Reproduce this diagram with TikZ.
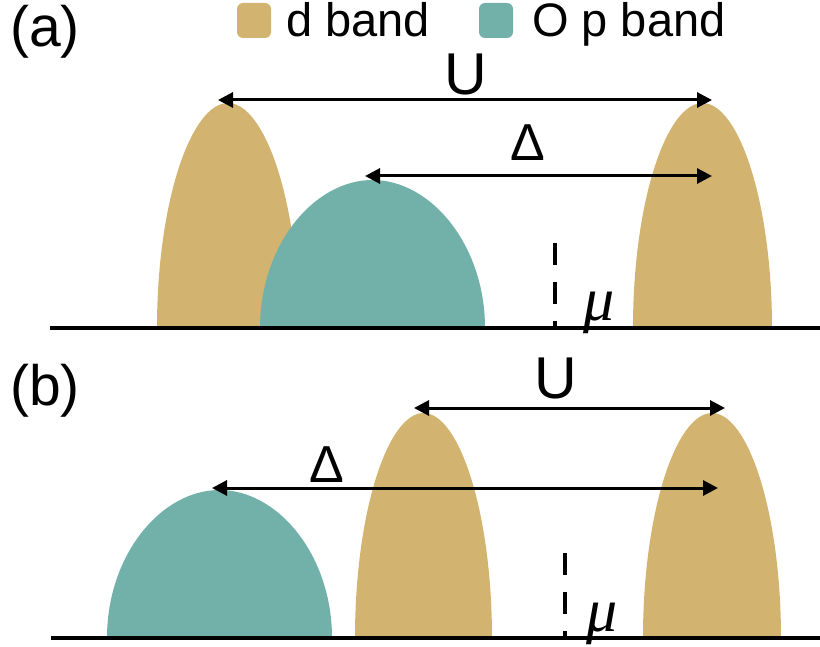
\documentclass[tikz,border=0pt]{standalone}
\usepackage{fontspec}
\setmainfont{Liberation Sans}
\newfontfamily\muserif{Liberation Serif}
\usetikzlibrary{arrows.meta}
\definecolor{dgold}{HTML}{D3B370}
\definecolor{pteal}{HTML}{72B0AA}
\tikzset{
  dimarrow/.style={line width=3pt,{Triangle[length=15pt,width=15pt]}-{Triangle[length=15pt,width=15pt]}},
  baseln/.style={line width=4.5pt},
  muline/.style={line width=4.5pt,dash pattern=on 22pt off 17pt},
  lbl/.style={inner sep=0pt,anchor=base}
}
% band: #1 fill, #2 x0, #3 x1, #4 peak y, #5 base y
\newcommand{\myband}[5]{%
  \pgfmathsetmacro{\xc}{(#2+#3)/2}%
  \pgfmathsetmacro{\hw}{(#3-#2)/2}%
  \pgfmathsetmacro{\hh}{#5-#4}%
  \fill[#1] (#2,#5) .. controls (#2,#5-0.56*\hh) and (\xc-0.52*\hw,#4) .. (\xc,#4)
     .. controls (\xc+0.52*\hw,#4) and (#3,#5-0.56*\hh) .. (#3,#5) -- cycle;}
\begin{document}
\begin{tikzpicture}[x=1pt,y=-1pt]
\useasboundingbox (0,0) rectangle (820,647);
% legend
\fill[dgold,rounded corners=6pt] (237,3) rectangle (271,38);
\fill[pteal,rounded corners=6pt] (479,3) rectangle (513,38);
\node[lbl,anchor=base west] (ld) at (286,37) {\fontsize{47}{47}\selectfont d band};
\node[lbl,anchor=base west] (lp) at (532,37) {\fontsize{47}{47}\selectfont O p band};
% panel labels
\node[lbl,anchor=base west] (pa) at (10,47) {\fontsize{57}{57}\selectfont (a)};
\node[lbl,anchor=base west] (pb) at (10,405) {\fontsize{57}{57}\selectfont (b)};
% panel (a) bands
\myband{dgold}{157}{299}{103}{328}
\myband{pteal}{260}{485}{180}{328}
\myband{dgold}{633}{772}{103}{328}
% panel (b) bands
\myband{pteal}{107}{332}{490}{638}
\myband{dgold}{355}{492}{413}{638}
\myband{dgold}{643}{781}{413}{638}
% baselines
\coordinate (a0) at (50,328); \coordinate (a1) at (820,328);
\coordinate (b0) at (51,638); \coordinate (b1) at (820,638);
\draw[baseln] (a0) -- (a1);
\draw[baseln] (b0) -- (b1);
% chemical potential
\coordinate (ma0) at (555,243); \coordinate (ma1) at (555,328);
\coordinate (mb0) at (565,553); \coordinate (mb1) at (565,638);
\draw[muline] (ma0) -- (ma1);
\draw[muline] (mb0) -- (mb1);
\node[lbl,anchor=base west] (mua) at (583,321) {\fontsize{62}{62}\muserif\itshape μ};
\node[lbl,anchor=base west] (mub) at (586,631) {\fontsize{62}{62}\muserif\itshape μ};
% arrows (a)
\coordinate (ua0) at (218,100); \coordinate (ua1) at (712,100);
\coordinate (da0) at (365,176); \coordinate (da1) at (712,176);
\draw[dimarrow] (ua0) -- (ua1);
\draw[dimarrow] (da0) -- (da1);
\node[lbl] (Ua) at (466,95) {\fontsize{59}{59}\selectfont U};
\node[lbl] (Da) at (528,161) {\fontsize{52}{52}\selectfont Δ};
% arrows (b)
\coordinate (ub0) at (414,408); \coordinate (ub1) at (725,408);
\coordinate (db0) at (212,488); \coordinate (db1) at (718,488);
\draw[dimarrow] (ub0) -- (ub1);
\draw[dimarrow] (db0) -- (db1);
\node[lbl] (Ub) at (556,398) {\fontsize{59}{59}\selectfont U};
\node[lbl] (Db) at (327,482) {\fontsize{52}{52}\selectfont Δ};
\end{tikzpicture}
\end{document}
